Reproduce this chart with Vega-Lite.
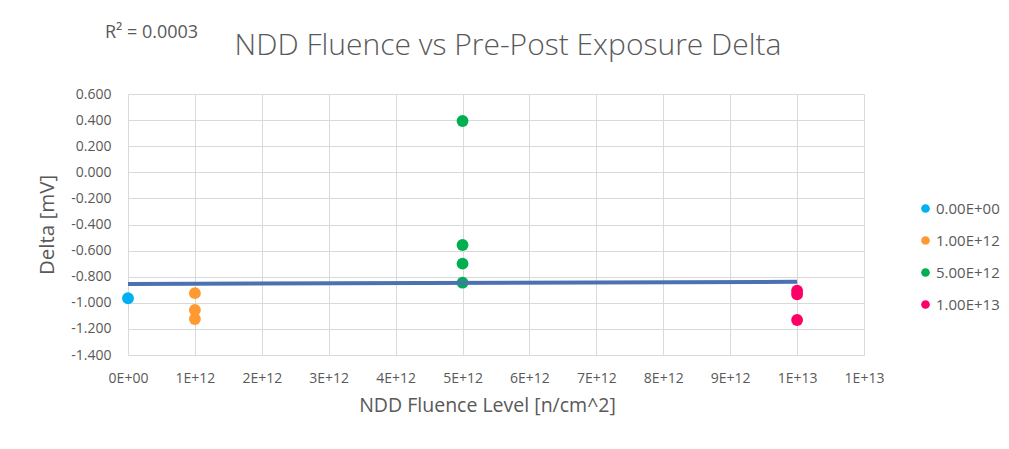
{
  "$schema": "https://vega.github.io/schema/vega-lite/v6.json",
  "width": 736,
  "height": 261,
  "autosize": {"type": "none"},
  "padding": {"left": 128, "top": 94, "right": 145, "bottom": 94},
  "background": "white",
  "datasets": {
    "pts": [
      {"fluence": 0, "delta": -0.965, "series": "0.00E+00"},
      {"fluence": 1e12, "delta": -0.926, "series": "1.00E+12"},
      {"fluence": 1e12, "delta": -1.055, "series": "1.00E+12"},
      {"fluence": 1e12, "delta": -1.124, "series": "1.00E+12"},
      {"fluence": 5e12, "delta": 0.393, "series": "5.00E+12"},
      {"fluence": 5e12, "delta": -0.557, "series": "5.00E+12"},
      {"fluence": 5e12, "delta": -0.700, "series": "5.00E+12"},
      {"fluence": 5e12, "delta": -0.846, "series": "5.00E+12"},
      {"fluence": 1e13, "delta": -0.907, "series": "1.00E+13"},
      {"fluence": 1e13, "delta": -0.935, "series": "1.00E+13"},
      {"fluence": 1e13, "delta": -1.132, "series": "1.00E+13"}
    ],
    "trend": [
      {"fluence": 0, "delta": -0.856},
      {"fluence": 1e13, "delta": -0.839}
    ],
    "zeroline": [
      {"delta": 0}
    ],
    "note": [
      {"fluence": -3.45e11, "delta": 1.07, "label": "R² = 0.0003"}
    ],
    "heading": [
      {"fluence": 5.68e12, "delta": 0.965, "label": "NDD Fluence vs Pre-Post Exposure Delta"}
    ]
  },
  "config": {
    "view": {"stroke": null},
    "axis": {
      "labelFont": "Open Sans",
      "labelFontSize": 14,
      "labelColor": "#595959",
      "titleFont": "Open Sans",
      "titleFontSize": 19.5,
      "titleFontWeight": "normal",
      "titleColor": "#595959",
      "gridColor": "#D9D9D9",
      "gridWidth": 1,
      "domain": false,
      "ticks": false,
      "labelOverlap": false,
      "labelFlush": false
    },
    "legend": {
      "labelFont": "Open Sans",
      "labelFontSize": 15,
      "labelColor": "#595959"
    }
  },
  "encoding": {
    "x": {
      "field": "fluence",
      "type": "quantitative",
      "scale": {"domain": [0, 1.1e13], "nice": false, "zero": false},
      "axis": {
        "title": "NDD Fluence Level [n/cm^2]",
        "values": [0, 1e12, 2e12, 3e12, 4e12, 5e12, 6e12, 7e12, 8e12, 9e12, 1e13, 1.1e13],
        "labelExpr": "datum.value == 0 ? '0E+00' : upper(format(datum.value, '.0e'))",
        "labelOverlap": false,
        "labelPadding": 16,
        "titlePadding": 11,
        "titleX": 359,
        "titleAlign": "center"
      }
    },
    "y": {
      "field": "delta",
      "type": "quantitative",
      "scale": {"domain": [-1.4, 0.6], "nice": false, "zero": false},
      "axis": {
        "title": "Delta [mV]",
        "titleFontSize": 20.5,
        "values": [-1.4, -1.2, -1, -0.8, -0.6, -0.4, -0.2, 0, 0.2, 0.4, 0.6],
        "labelExpr": "replace(format(datum.value, '.3f'), '−', '-')",
        "labelOverlap": false,
        "labelPadding": 17,
        "titlePadding": 13
      }
    }
  },
  "layer": [
    {
      "data": {"name": "pts"},
      "mark": {"type": "point", "filled": true, "shape": "circle", "size": 140, "opacity": 1},
      "encoding": {
        "color": {
          "field": "series",
          "type": "nominal",
          "scale": {
            "domain": ["0.00E+00", "1.00E+12", "5.00E+12", "1.00E+13"],
            "range": ["#00B0F0", "#FF9A33", "#00B050", "#FF0066"]
          },
          "legend": {
            "title": null,
            "orient": "none",
            "legendX": 790,
            "legendY": 107,
            "symbolType": "circle",
            "symbolSize": 75,
            "symbolStrokeWidth": 0,
            "symbolOpacity": 1,
            "rowPadding": 16,
            "labelOffset": 3
          }
        }
      }
    },
    {
      "data": {"name": "zeroline"},
      "mark": {"type": "rule", "color": "#BFBFBF", "strokeWidth": 1},
      "encoding": {"x": {"datum": 0}, "x2": {"datum": 1.1e13}}
    },
    {
      "data": {"name": "trend"},
      "mark": {"type": "line", "color": "#4A72B0", "strokeWidth": 4}
    },
    {
      "data": {"name": "note"},
      "mark": {"type": "text", "font": "Open Sans", "fontSize": 18, "color": "#595959", "align": "left", "baseline": "middle"},
      "encoding": {"text": {"field": "label"}}
    },
    {
      "data": {"name": "heading"},
      "mark": {"type": "text", "font": "Open Sans", "fontSize": 30, "fontWeight": 300, "color": "#595959", "align": "center", "baseline": "middle"},
      "encoding": {"text": {"field": "label"}}
    }
  ]
}
